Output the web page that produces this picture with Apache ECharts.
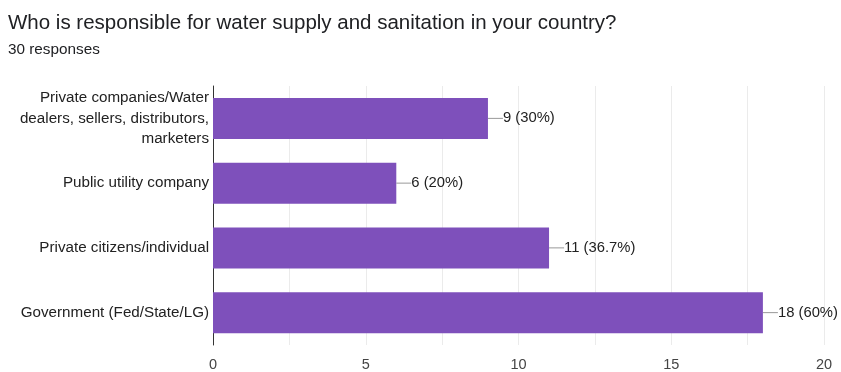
<!DOCTYPE html>
<html><head><meta charset="utf-8">
<script src="https://cdn.jsdelivr.net/npm/echarts@6/dist/echarts.min.js"></script>
<style>html,body{margin:0;padding:0;background:#fff}#c{width:841px;height:372px}</style>
</head><body><div id="c"></div>
<script>
const categories = ["Government (Fed/State/LG)", "Private citizens/individual", "Public utility company", "Private companies/Water\ndealers, sellers, distributors,\nmarketers"];
const counts = [18, 11, 6, 9];
const percents = ["60%", "36.7%", "20%", "30%"];
const xTicks = [0, 5, 10, 15, 20];

const chart = echarts.init(document.getElementById('c'));
chart.setOption({
  animation: false,
  title: [
    {text: "Who is responsible for water supply and sanitation in your country?", left: 8, top: 13, padding: 0,
     textStyle: {fontFamily: 'Liberation Sans, Arial', fontSize: 20.5, fontWeight: 'normal', color: '#202124'}},
    {text: "30 responses", left: 8, top: 42, padding: 0,
     textStyle: {fontFamily: 'Liberation Sans, Arial', fontSize: 15.3, fontWeight: 'normal', color: '#202124'}}
  ],
  grid: {left: 213, right: 17, top: 86, bottom: 24, containLabel: false},
  xAxis: {
    type: 'value', min: 0, max: 20, interval: 2.5,
    axisLine: {show: false}, axisTick: {show: false},
    splitLine: {lineStyle: {color: '#ebebeb'}},
    axisLabel: {color: '#444', fontSize: 14.5, fontFamily: 'Liberation Sans, Arial', margin: 12,
      formatter: v => xTicks.includes(v) ? String(v) : ''}
  },
  yAxis: {
    type: 'category', data: categories,
    axisLine: {show: true, lineStyle: {color: '#333'}}, axisTick: {show: false},
    axisLabel: {color: '#222', fontSize: 15.2, fontFamily: 'Liberation Sans, Arial', lineHeight: 20.5, align: 'right', margin: 4}
  },
  series: [{
    type: 'bar', data: counts, barWidth: 41,
    itemStyle: {color: '#7e50bb'},
    label: {show: true, position: 'right', distance: 0, color: '#222', fontSize: 14.8, fontFamily: 'Liberation Sans, Arial',
      formatter: p => counts[p.dataIndex] + ' (' + percents[p.dataIndex] + ')'},
    labelLayout: {dx: 15},
    labelLine: {show: true, lineStyle: {color: '#999', width: 1}}
  }]
});
</script></body></html>
